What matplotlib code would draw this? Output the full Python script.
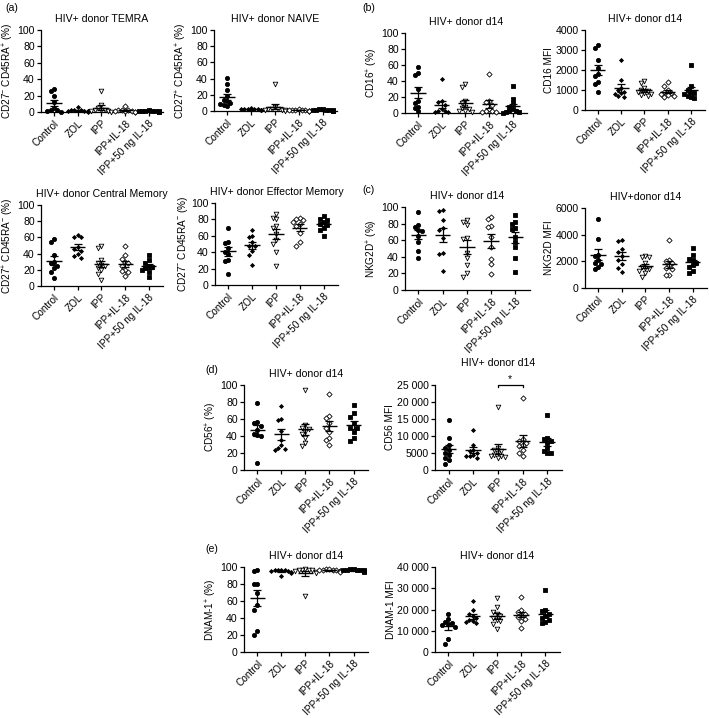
import numpy as np
import matplotlib
matplotlib.use("Agg")
import matplotlib.pyplot as plt
from matplotlib.ticker import FuncFormatter

plt.rcParams['font.family'] = ['Liberation Sans', 'DejaVu Sans']
plt.rcParams['mathtext.fontset'] = 'custom'
plt.rcParams['mathtext.rm'] = 'Liberation Sans'
plt.rcParams['mathtext.it'] = 'Liberation Sans'
FS = 7.6
plt.rcParams['font.size'] = FS

groups = ['Control', 'ZOL', 'IPP', 'IPP+IL-18', 'IPP+50 ng IL-18']

# values per group: Control, ZOL, IPP, IPP+IL-18, IPP+50 ng IL-18
temra = [[28, 26, 20, 5, 3, 2, 1, 0.5, 12],
         [6, 3, 2, 1.5, 1, 1, 0.5, 2, 1],
         [26, 8, 5, 3, 2, 1, 1, 0.5, 2],
         [7, 3, 2, 2, 1, 1, 0.5, 1, 0.5],
         [2, 1.5, 1, 1, 0.5, 0.5, 1, 0.8, 1.2]]
naive = [[41, 33, 26, 18, 14, 12, 10, 9, 8, 6],
         [4, 3, 3, 2, 2, 2, 1.5, 1, 1],
         [33, 5, 3, 2, 1.5, 1, 1, 0.5, 2],
         [2, 1.5, 1, 1, 0.5, 0.5, 1, 0.8, 0.5],
         [3, 2, 1.5, 1, 1, 0.5, 0.5, 1, 0.8]]
cd16_pct = [[57, 50, 48, 30, 15, 13, 8, 6, 2],
            [42, 15, 14, 10, 5, 2, 1, 1, 3],
            [36, 32, 15, 12, 8, 5, 3, 2, 1, 6],
            [49, 15, 14, 10, 5, 3, 2, 1, 1],
            [34, 18, 12, 8, 5, 3, 2, 1, 1, 0.5]]
cd16_mfi = [[3250, 3100, 2500, 2100, 1800, 1700, 1400, 1300, 900],
            [2500, 1500, 1000, 900, 850, 800, 700, 650, 1100],
            [1450, 1350, 1100, 1000, 950, 900, 850, 800, 700, 750],
            [1400, 1200, 1000, 900, 850, 800, 750, 700, 650],
            [2250, 1200, 1000, 900, 850, 800, 700, 650, 600]]
central = [[58, 54, 38, 30, 28, 25, 22, 17, 10],
           [63, 61, 60, 48, 46, 43, 40, 35, 37],
           [50, 47, 32, 28, 25, 22, 20, 15, 7, 26],
           [49, 38, 33, 30, 28, 25, 20, 18, 17, 12],
           [38, 32, 28, 25, 24, 22, 20, 17, 11]]
effector = [[69, 53, 51, 45, 40, 38, 30, 29, 14],
            [67, 60, 58, 52, 48, 47, 42, 37, 24],
            [86, 82, 80, 72, 70, 62, 55, 50, 40, 23],
            [82, 80, 79, 77, 75, 72, 63, 52, 48],
            [84, 81, 79, 77, 75, 73, 70, 67, 60]]
nkg2d_pct = [[94, 78, 76, 72, 71, 65, 58, 47, 38],
             [96, 95, 84, 75, 72, 63, 45, 43, 23],
             [84, 82, 78, 63, 61, 45, 39, 30, 20, 16],
             [88, 85, 77, 76, 64, 52, 37, 31, 19],
             [90, 82, 80, 75, 74, 64, 58, 52, 39, 22]]
nkg2d_mfi = [[5200, 3700, 2500, 2400, 2100, 1900, 1800, 1600, 1400],
             [3600, 3500, 2900, 2700, 2400, 2100, 1800, 1500, 1200],
             [2400, 2300, 2300, 1900, 1600, 1500, 1400, 1300, 1100, 800],
             [3600, 2100, 2000, 1900, 1700, 1500, 1400, 1000, 950],
             [3000, 2500, 2200, 2100, 1900, 1700, 1600, 1300, 1100]]
cd56_pct = [[79, 57, 55, 52, 47, 42, 41, 40, 8],
            [75, 60, 59, 46, 35, 29, 25, 24, 26],
            [94, 53, 50, 48, 45, 42, 38, 32, 28],
            [90, 63, 61, 55, 50, 45, 38, 35, 30],
            [76, 67, 62, 55, 50, 45, 38, 34, 50]]
cd56_mfi = [[14600, 9500, 7500, 6500, 6000, 5000, 4500, 3500, 1800, 3000],
            [11800, 7500, 6000, 5500, 5000, 4500, 4000, 3500, 4200],
            [18600, 6500, 6000, 5500, 5000, 4500, 4200, 4000, 3800, 3500],
            [21200, 9000, 8500, 8000, 7000, 6000, 5000, 4000, 7500],
            [16200, 9500, 9000, 8500, 6500, 5500, 5000, 5000, 8000]]
dnam_pct = [[96, 95, 80, 80, 70, 55, 50, 25, 20],
            [97, 97, 96, 96, 95, 95, 94, 93, 90],
            [98, 97, 97, 96, 96, 95, 94, 93, 66],
            [98, 98, 97, 97, 96, 96, 95, 95, 94],
            [98, 98, 97, 97, 97, 96, 96, 95, 95, 94]]
dnam_mfi = [[18000, 15500, 14000, 13500, 13000, 12000, 12500, 6000, 4000],
            [24000, 20000, 18000, 17000, 16000, 15000, 14500, 14000, 13500],
            [25500, 21000, 19000, 18000, 17000, 16000, 15000, 14500, 13000, 11000],
            [26000, 20000, 19000, 18000, 17500, 16500, 15500, 14500, 11500],
            [29000, 20000, 19500, 18000, 17000, 16000, 15000, 14000, 13500]]

# marker styles: (marker, filled, size)
styles = [('o', True, 9), ('D', True, 4), ('v', False, 11), ('D', False, 7), ('s', True, 10)]

W, H = 709, 718
fig = plt.figure(figsize=(W / 100, H / 100), dpi=100)


def box(l, r, t, b):
    return [l / W, 1 - b / H, (r - l) / W, (b - t) / H]


def sep(v, pos):
    v = int(round(v))
    if v >= 10000:
        return f"{v:,}".replace(",", " ")
    return str(v)


def swarm(vals, span, w=0.14, thresh=0.055):
    # simple deterministic spreading of overlapping points
    vals = np.asarray(vals, float) / span
    offs = np.zeros(len(vals))
    placed = []
    for i in np.argsort(vals)[::-1]:
        for c in [0, -w, w, -2 * w, 2 * w, -3 * w, 3 * w]:
            if all(abs(vals[i] - py) > thresh or abs(c - px) > w * 0.5 for px, py in placed):
                break
        offs[i] = c
        placed.append((c, vals[i]))
    return offs


def panel(pos, data, ymax, yticks, ylabel, title, mfi=False):
    ax = fig.add_axes(box(*pos))
    for i, vals in enumerate(data):
        m, filled, s = styles[i]
        x = i + swarm(vals, ymax)
        ax.scatter(x, vals, marker=m, s=s, linewidths=0.6,
                   facecolors='black' if filled else 'white', edgecolors='black',
                   clip_on=False, zorder=3)
        mean = np.mean(vals)
        sem = np.std(vals, ddof=1) / np.sqrt(len(vals))
        ax.hlines(mean, i - 0.32, i + 0.32, color='black', lw=1.0, zorder=4)
        ax.errorbar(i, mean, yerr=sem, fmt='none', ecolor='black', elinewidth=0.9,
                    capsize=3, capthick=0.9, zorder=4)
    ax.set_xlim(-0.55, 4.6)
    ax.set_ylim(0, ymax)
    ax.set_yticks(yticks)
    if mfi:
        ax.yaxis.set_major_formatter(FuncFormatter(sep))
    ax.set_xticks(range(5))
    ax.set_xticklabels(groups, rotation=45, ha='right', rotation_mode='anchor', fontsize=7.2)
    ax.spines['top'].set_visible(False)
    ax.spines['right'].set_visible(False)
    for sp in ['left', 'bottom']:
        ax.spines[sp].set_linewidth(0.9)
    ax.tick_params(width=0.9, length=3, pad=1.5)
    ax.tick_params(axis='y', labelsize=FS)
    ax.set_ylabel(ylabel, fontsize=7.2, labelpad=1)
    ax.set_title(title, fontsize=FS, pad=6)
    return ax


pct = [0, 20, 40, 60, 80, 100]
panel((41, 163, 30, 112), temra, 100, pct, r'CD27$^{-}$ CD45RA$^{+}$ (%)', 'HIV+ donor TEMRA')
panel((214, 337, 30, 111), naive, 100, pct, r'CD27$^{+}$ CD45RA$^{+}$ (%)', 'HIV+ donor NAIVE')
panel((405, 527, 33, 113), cd16_pct, 100, pct, r'CD16$^{+}$ (%)', 'HIV+ donor d14')
panel((585, 705, 30, 110), cd16_mfi, 4000, [0, 1000, 2000, 3000, 4000], 'CD16 MFI', 'HIV+ donor d14')
panel((41, 163, 205, 286), central, 100, pct, r'CD27$^{+}$ CD45RA$^{-}$ (%)', 'HIV+ donor Central Memory')
panel((215, 338, 203, 285), effector, 100, pct, r'CD27$^{-}$ CD45RA$^{-}$ (%)', 'HIV+ donor Effector Memory')
panel((405, 530, 207, 290), nkg2d_pct, 100, pct, r'NKG2D$^{+}$ (%)', 'HIV+ donor d14')
panel((585, 707, 208, 288), nkg2d_mfi, 6000, [0, 2000, 4000, 6000], 'NKG2D MFI', 'HIV+donor d14')
panel((244, 368, 385, 470), cd56_pct, 100, pct, r'CD56$^{+}$ (%)', 'HIV+ donor d14')
ax56 = panel((435, 562, 385, 470), cd56_mfi, 25000, [0, 5000, 10000, 15000, 20000, 25000],
             'CD56 MFI', 'HIV+ donor d14', mfi=True)
panel((244, 368, 567, 652), dnam_pct, 100, pct, r'DNAM-1$^{+}$ (%)', 'HIV+ donor d14')
panel((435, 560, 567, 652), dnam_mfi, 40000, [0, 10000, 20000, 30000, 40000],
      'DNAM-1 MFI', 'HIV+ donor d14', mfi=True)

# significance bracket IPP vs IPP+IL-18
ax56.plot([2, 2, 3, 3], [24300, 25000, 25000, 24300], color='black', lw=0.9, clip_on=False)
ax56.text(2.5, 25300, '*', ha='center', va='bottom', fontsize=FS)
ax56.set_title('HIV+ donor d14', fontsize=FS, pad=14)

for lbl, x, y in [('(a)', 5, 8), ('(b)', 362, 8), ('(c)', 362, 190), ('(d)', 205, 370), ('(e)', 205, 549)]:
    fig.text(x / W, 1 - y / H, lbl, fontsize=FS, va='center', ha='left')

fig.savefig('out.png', dpi=100)
